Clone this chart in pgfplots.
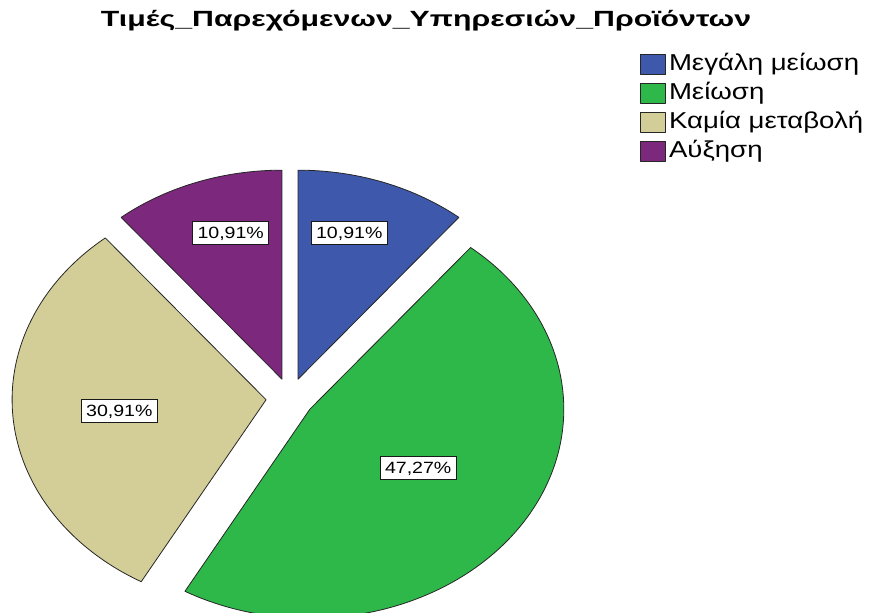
\documentclass[border=0pt]{standalone}
\usepackage{fontspec}
\setmainfont{Liberation Sans}
\usepackage{graphicx}
\usepackage{pgfplots}
\usepackage{pgfplotstable}
\pgfplotsset{compat=1.18}
\definecolor{cBlue}{RGB}{62,88,172}
\definecolor{cGreen}{RGB}{46,184,74}
\definecolor{cTan}{RGB}{211,206,151}
\definecolor{cPurple}{RGB}{124,40,125}

\pgfplotstableread{
slice value
1 10.91
2 47.27
3 30.91
4 10.91
}\piedata

% pie geometry (pixel units)
\def\cx{290}\def\cy{398}
\def\ra{254}\def\rb{209}
\def\ex{24}\def\ey{20}

\newcommand\pctlabel[1]{\scalebox{1.2}[1]{\pgfmathprintnumber[assume math mode=true,use comma,fixed,fixed zerofill,precision=2]{#1}\%}}

% #1 start angle, #2 end angle, #3 colour, #4 fx, #5 fy, #6 value, #7 legend text
\newcommand\slice[7]{%
  \pgfmathsetmacro\slmid{(#1+#2)/2}%
  \pgfmathsetmacro\apx{\cx+\ex*cos(\slmid)}%
  \pgfmathsetmacro\apy{\cy-\ey*sin(\slmid)}%
  \pgfmathsetmacro\lbx{\apx+#4*\ra*cos(\slmid)}%
  \pgfmathsetmacro\lby{\apy-#5*\rb*sin(\slmid)}%
  \edef\tmp{%
    \noexpand\addplot[fill=#3, draw=black!85, line width=0.8pt, line join=round,
      domain=#2:#1, samples=120, variable=\noexpand\t]
      ({\apx+\ra*cos(\noexpand\t)},{\apy-\rb*sin(\noexpand\t)}) -- (axis cs:\apx,\apy) -- cycle;
    \noexpand\addlegendentry{\noexpand\scalebox{1.2}[1]{\unexpanded{#7}}}
    \noexpand\node[pctbox] at (axis cs:\lbx,\lby) {\noexpand\pctlabel{#6}};
  }%
  \tmp}

\begin{document}%
\pgfplotstablegetelem{0}{value}\of\piedata\let\vA\pgfplotsretval%
\pgfplotstablegetelem{1}{value}\of\piedata\let\vB\pgfplotsretval%
\pgfplotstablegetelem{2}{value}\of\piedata\let\vC\pgfplotsretval%
\pgfplotstablegetelem{3}{value}\of\piedata\let\vD\pgfplotsretval%
\pgfmathsetmacro\aA{90}%
\pgfmathsetmacro\aB{\aA-3.6*\vA}%
\pgfmathsetmacro\aC{\aB-3.6*\vB}%
\pgfmathsetmacro\aD{\aC-3.6*\vC}%
\pgfmathsetmacro\aE{\aD-3.6*\vD}%
\begin{tikzpicture}[
  pctbox/.style={draw=black!90, fill=white, line width=0.9pt, inner xsep=5pt, inner ysep=0pt,
    minimum height=23pt, text height=11.7pt, text depth=0pt,
    font=\fontsize{16.3}{18}\selectfont}]
\useasboundingbox (0,0) rectangle (873pt,613pt);
\begin{axis}[
  at={(0,0)}, anchor=south west,
  width=873pt, height=613pt, scale only axis,
  xmin=0, xmax=873, ymin=0, ymax=613, y dir=reverse,
  hide axis, axis lines=none, xtick=\empty, ytick=\empty,
  clip mode=individual,
  legend image code/.code={\draw[#1,draw=black!85,line width=0.8pt] (0pt,-10pt) rectangle (25pt,10pt);},
  legend style={at={(axis cs:640,54)}, anchor=north west, draw=none, fill=none,
    inner sep=0pt, column sep=3pt, row sep=8pt,
    font=\fontsize{23}{23}\selectfont,
    nodes={inner sep=0pt, text height=16pt, text depth=4pt}},
  legend cell align=left,
]
\slice{\aA}{\aB}{cBlue}{0.6}{0.745}{\vA}{Μεγάλη μείωση}
\slice{\aB}{\aC}{cGreen}{0.517}{0.497}{\vB}{Μείωση}
\slice{\aC}{\aD}{cTan}{0.58}{0.6}{\vC}{Καμία μεταβολή}
\slice{\aD}{\aE}{cPurple}{0.6}{0.745}{\vD}{Αύξηση}
\node[anchor=base, font=\bfseries\fontsize{22}{24}\selectfont] at (axis cs:426,27)
  {\resizebox{650pt}{\height}{Τιμές\_Παρεχόμενων\_Υπηρεσιών\_Προϊόντων}};
\end{axis}
\end{tikzpicture}%
\end{document}
